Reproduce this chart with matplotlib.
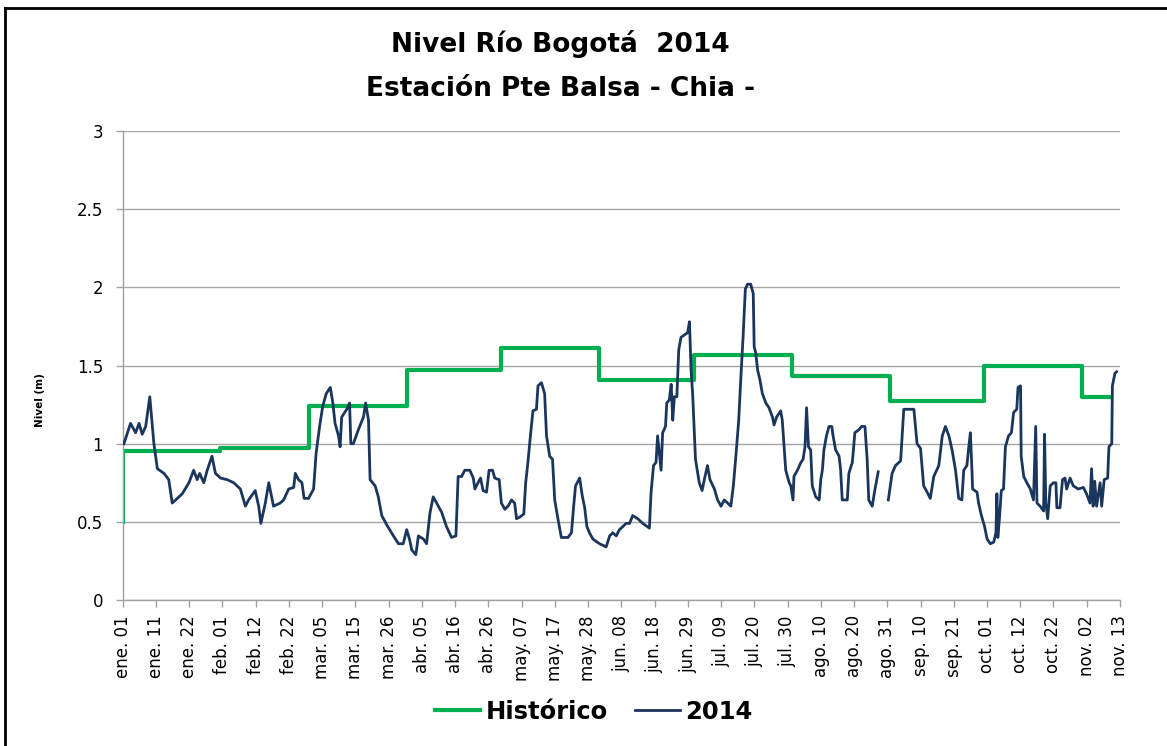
import matplotlib
matplotlib.use('Agg')
import matplotlib.pyplot as plt
import numpy as np
from datetime import date, timedelta

plt.rcParams['font.family'] = ['DejaVu Sans']

# DATOS
meses = ['ene.', 'feb.', 'mar.', 'abr.', 'may.', 'jun.', 'jul.', 'ago.',
         'sep.', 'oct.', 'nov.', 'dic.']

# historico mensual (dia del anio en que empieza cada mes)
hist_inicio = [0, 31, 59, 90, 120, 151, 181, 212, 243, 273, 304]
hist_nivel = [0.95, 0.97, 1.24, 1.47, 1.61, 1.41, 1.57, 1.43, 1.27, 1.50, 1.30]
hist_arranque = 0.5
hist_fin = 313

# nivel 2014 (dias desde el 1 de enero)
dias_2014 = [
    0.4, 2.5, 4.1, 5.2, 6.2, 7.3, 8.6, 9.9, 11.0, 13.1, 14.6, 15.7, 16.8, 18.9,
    21.0, 22.5, 23.6, 24.4, 25.7, 26.8, 28.3, 29.4, 31.0, 33.1, 35.2, 37.3,
    38.9, 39.9, 42.0, 43.1, 43.8, 45.2, 46.3, 47.8, 49.9,
    51.0, 52.6, 54.2, 54.7, 55.7, 56.8, 57.5, 58.9, 60.5, 61.3, 62.4, 63.4,
    64.5, 65.8, 66.6, 67.3, 68.4, 68.9, 69.4, 71.0, 71.9, 72.3, 73.1, 74.7,
    76.3, 77.0, 77.9, 78.4, 80.0, 81.0, 82.1, 83.7, 85.8, 87.4, 88.9, 90.0,
    91.0, 91.6, 92.9, 93.7, 95.3, 96.3, 97.4, 98.4, 99.5, 101.1, 102.6,
    104.2, 105.6, 106.3,
    107.4, 108.4, 110.0, 111.1, 111.6, 112.6, 113.4, 114.2, 115.3, 116.1,
    117.2, 117.9, 119.3, 120.0, 121.1, 122.1, 123.2, 124.2, 124.8, 125.8,
    127.1, 127.7, 128.4, 129.2, 130.0, 131.1, 131.6, 132.7, 133.7, 134.3,
    135.3, 136.2, 136.9, 138.0, 139.0, 141.1, 142.2, 142.9, 143.5, 144.8,
    145.6, 146.4, 147.1, 147.9, 149.0, 151.1, 153.2, 154.3, 155.3, 156.4,
    157.4,
    158.5, 159.5, 160.6, 161.6, 163.2, 164.8, 166.9, 167.4, 168.2, 169.0,
    169.5, 170.6, 171.1, 172.0, 172.4, 173.2, 173.8, 174.3, 174.8, 175.6,
    176.2, 176.9, 178.3, 179.0, 179.6, 180.1, 180.6, 181.5, 182.7, 183.6,
    184.3, 185.3, 186.1, 187.5, 188.5, 189.6, 190.6, 191.7, 192.7, 193.5,
    194.3, 195.2, 195.9, 196.6, 197.3, 198.0, 199.0, 199.8, 200.1, 200.6,
    201.2, 201.9, 202.7, 203.8, 204.8, 205.9, 206.4, 207.2, 208.5, 209.0,
    209.6, 210.1, 211.2,
    211.7, 212.4, 212.7, 213.8, 214.9, 215.6, 216.2, 216.7, 217.3, 218.0,
    218.5, 219.6, 220.7, 221.2, 221.7, 222.2, 223.0, 223.8, 224.7, 225.1,
    225.9, 227.0, 227.5, 228.0, 229.6, 230.1, 231.2, 232.0, 233.3, 234.1,
    235.2, 235.9, 236.4, 237.5, 238.3, 239.4, 240.5,
    242.6, 243.8, 244.9, 246.5, 247.5, 250.7, 251.7, 252.8, 253.8, 254.9,
    255.9, 257.0, 258.6, 259.7, 260.7, 261.8, 262.8, 263.9, 264.9,
    265.9, 266.5, 267.5, 268.1, 268.6, 269.1, 269.3, 270.7, 271.2, 272.1,
    273.1, 273.9, 274.9, 276.0, 276.7, 277.0, 277.3, 277.8, 278.4, 279.1,
    279.7, 280.7, 281.6, 282.3, 283.3, 283.7, 284.5, 284.7, 285.5, 286.5,
    287.6, 288.6, 289.3, 289.7, 290.7, 291.8, 292.1, 292.5, 293.1, 293.9,
    294.9, 295.7, 296.0, 297.0, 297.8, 298.6, 299.1, 300.2, 301.2, 302.8,
    304.4, 305.4, 306.5, 307.0, 307.5, 308.0, 308.6, 309.7, 310.2, 311.0,
    312.1, 312.5, 313.4, 313.6, 314.4, 314.9]
nivel_2014 = [
    1.00, 1.13, 1.07, 1.13, 1.06, 1.11, 1.30, 1.00, 0.84, 0.81, 0.77, 0.62, 0.64, 0.68,
    0.75, 0.83, 0.77, 0.81, 0.75, 0.83, 0.92, 0.81, 0.78, 0.77, 0.75, 0.71,
    0.60, 0.64, 0.70, 0.60, 0.49, 0.62, 0.75, 0.60, 0.62,
    0.64, 0.71, 0.72, 0.81, 0.77, 0.75, 0.65, 0.65, 0.71, 0.94, 1.11, 1.24,
    1.32, 1.36, 1.26, 1.13, 1.05, 0.98, 1.17, 1.22, 1.26, 1.00, 1.00, 1.09,
    1.17, 1.26, 1.15, 0.77, 0.73, 0.66, 0.54, 0.48, 0.41, 0.36, 0.36, 0.45,
    0.38, 0.32, 0.29, 0.41, 0.39, 0.36, 0.56, 0.66, 0.62, 0.56, 0.47,
    0.40, 0.41, 0.79,
    0.79, 0.83, 0.83, 0.78, 0.71, 0.75, 0.78, 0.70, 0.69, 0.83,
    0.83, 0.78, 0.77, 0.62, 0.58, 0.60, 0.64, 0.62, 0.52, 0.53,
    0.55, 0.75, 0.88, 1.05, 1.21, 1.22, 1.37, 1.39, 1.32, 1.05,
    0.92, 0.90, 0.64, 0.51, 0.40, 0.40, 0.43, 0.60, 0.73, 0.78,
    0.67, 0.59, 0.47, 0.43, 0.39, 0.36, 0.34, 0.41, 0.43, 0.41,
    0.45,
    0.47, 0.49, 0.49, 0.54, 0.52, 0.49, 0.46, 0.68, 0.86, 0.88,
    1.05, 0.83, 1.07, 1.11, 1.26, 1.28, 1.38, 1.15, 1.30, 1.30,
    1.60, 1.68, 1.70, 1.71, 1.78, 1.47, 1.32, 0.90, 0.75, 0.70,
    0.77, 0.86, 0.77, 0.71, 0.64, 0.60, 0.64, 0.62, 0.60, 0.73,
    0.92, 1.15, 1.43, 1.69, 1.99, 2.02, 2.02, 1.96, 1.62, 1.58,
    1.47, 1.41, 1.32, 1.26, 1.23, 1.17, 1.12, 1.17, 1.21, 1.15,
    0.98, 0.83, 0.75,
    0.73, 0.64, 0.79, 0.83, 0.88, 0.90, 0.98, 1.23, 0.98, 0.96,
    0.73, 0.66, 0.64, 0.77, 0.83, 0.96, 1.05, 1.11, 1.11, 1.05,
    0.96, 0.92, 0.83, 0.64, 0.64, 0.81, 0.88, 1.07, 1.09, 1.11,
    1.11, 0.90, 0.64, 0.60, 0.70, 0.82, np.nan,
    0.64, 0.81, 0.86, 0.89, 1.22, 1.22, 1.00, 0.97, 0.73, 0.69,
    0.65, 0.79, 0.86, 1.05, 1.11, 1.05, 0.96, 0.83, 0.65,
    0.64, 0.83, 0.86, 0.98, 1.07, 0.83, 0.71, 0.69, 0.62, 0.54,
    0.47, 0.39, 0.36, 0.37, 0.43, 0.68, 0.40, 0.52, 0.70, 0.71,
    0.98, 1.05, 1.07, 1.20, 1.22, 1.36, 1.37, 0.92, 0.79, 0.75,
    0.71, 0.64, 1.11, 0.62, 0.60, 0.57, 1.06, 0.62, 0.52, 0.73,
    0.75, 0.75, 0.59, 0.59, 0.77, 0.78, 0.71, 0.78, 0.73, 0.71,
    0.72, 0.68, 0.62, 0.84, 0.60, 0.76, 0.60, 0.75, 0.60, 0.77,
    0.78, 0.98, 1.00, 1.37, 1.45, 1.46]

# eje de fechas: 30 intervalos iguales entre el 1 de enero y el 13 de noviembre
dias_total = 316
marcas = np.linspace(0, dias_total, 31)
etiquetas = []
for t in marcas:
    d = date(2014, 1, 1) + timedelta(days=int(t + 1e-9))
    etiquetas.append(f"{meses[d.month - 1]} {d.day:02d}")

# GRAFICO
fig = plt.figure(figsize=(11.67, 7.46), dpi=100)
ax = fig.add_axes([0.1051, 0.1957, 0.8546, 0.6287])

hx = [0] + hist_inicio + [hist_fin]
hy = [hist_arranque] + hist_nivel + [hist_nivel[-1]]
ax.plot(hx, hy, drawstyle='steps-post', color='#00B050', lw=3.0,
        label='Histórico', zorder=2)
ax.plot(dias_2014, nivel_2014, color='#1B365D', lw=2.0, label='2014', zorder=3)

ax.set_xlim(0, dias_total)
ax.set_ylim(0, 3)
ax.set_yticks([0, 0.5, 1, 1.5, 2, 2.5, 3])
ax.set_yticklabels(['0', '0.5', '1', '1.5', '2', '2.5', '3'])
ax.set_xticks(marcas)
ax.set_xticklabels(etiquetas, rotation=90)
ax.grid(axis='y', color='#A6A6A6', lw=1.0)
ax.set_axisbelow(True)
for s in ['top', 'right']:
    ax.spines[s].set_visible(False)
for s in ['left', 'bottom']:
    ax.spines[s].set_color('#A0A0A0')
    ax.spines[s].set_linewidth(1.0)
ax.tick_params(axis='both', colors='#A0A0A0', length=5, width=1.0,
               labelcolor='black', labelsize=12)
ax.tick_params(axis='y', pad=9)
ax.tick_params(axis='x', pad=6)

fig.text(0.48, 1 - 52 / 746, 'Nivel Río Bogotá  2014', ha='center',
         va='baseline', fontsize=19, fontweight='bold')
fig.text(0.48, 1 - 96 / 746, 'Estación Pte Balsa - Chia -', ha='center',
         va='baseline', fontsize=19, fontweight='bold')
fig.text(40 / 1167, 1 - 400 / 746, 'Nivel (m)', rotation=90, ha='center',
         va='center', fontsize=7.5, fontweight='bold')

fig.legend(loc='center', bbox_to_anchor=(0.509, 0.0456), ncol=2, frameon=False,
           prop={'size': 17.5, 'weight': 'bold'}, handlelength=1.85,
           handletextpad=0.2, columnspacing=1.15)

# marco del grafico
fig.add_artist(plt.Line2D([5 / 1167, 5 / 1167], [0, 1 - 8 / 746], color='black',
                          lw=2, transform=fig.transFigure))
fig.add_artist(plt.Line2D([5 / 1167, 1], [1 - 8 / 746, 1 - 8 / 746], color='black',
                          lw=2, transform=fig.transFigure))

fig.savefig('out.png', dpi=100)
